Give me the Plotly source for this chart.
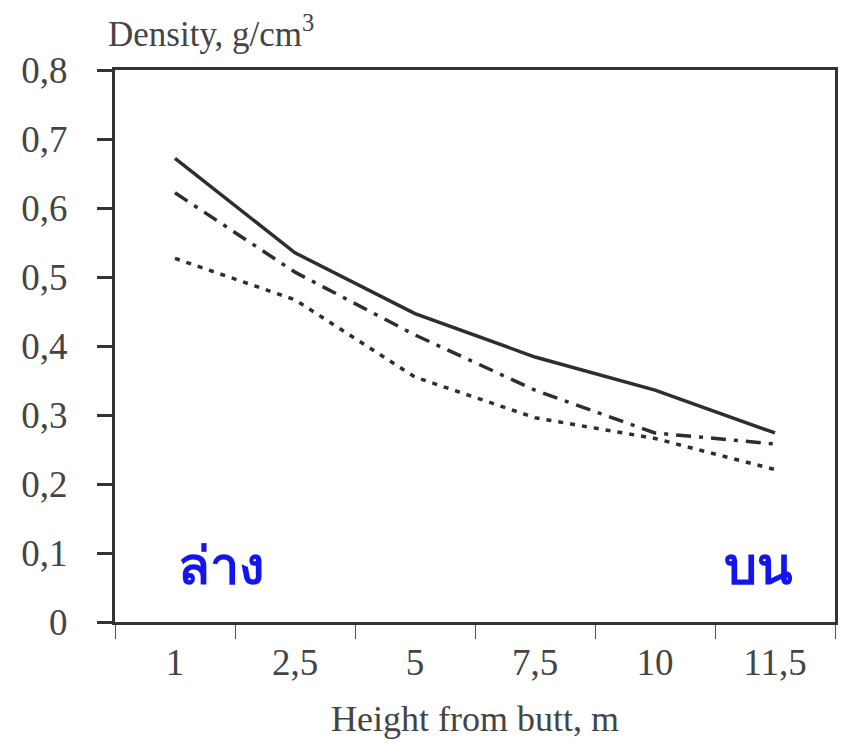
import plotly.graph_objects as go

categories = ["1", "2,5", "5", "7,5", "10", "11,5"]
series_solid = [0.672, 0.535, 0.447, 0.384, 0.336, 0.274]
series_dashdot = [0.622, 0.507, 0.416, 0.336, 0.274, 0.258]
series_dotted = [0.527, 0.467, 0.355, 0.296, 0.266, 0.221]
y_ticks = [0, 0.1, 0.2, 0.3, 0.4, 0.5, 0.6, 0.7, 0.8]
y_tick_labels = ["0", "0,1", "0,2", "0,3", "0,4", "0,5", "0,6", "0,7", "0,8"]

line_color = "#2e2e2e"
serif = "Liberation Serif, DejaVu Serif, serif"
thai = "Noto Sans, DejaVu Sans, sans-serif"

fig = go.Figure()
fig.add_trace(go.Scatter(x=categories, y=series_solid, mode="lines",
                         line=dict(color=line_color, width=3.5, dash="solid"), showlegend=False))
fig.add_trace(go.Scatter(x=categories, y=series_dashdot, mode="lines",
                         line=dict(color=line_color, width=3.5, dash="15px,8px,4px,8px"), showlegend=False))
fig.add_trace(go.Scatter(x=categories, y=series_dotted, mode="lines",
                         line=dict(color=line_color, width=3.5, dash="5px,7px"), showlegend=False))

fig.update_layout(
    width=852, height=748,
    margin=dict(l=115, r=17, t=70, b=126),
    paper_bgcolor="white", plot_bgcolor="white",
    font=dict(family=serif, color="#333333", size=36),
    xaxis=dict(
        type="category", range=[-0.5, 5.5],
        showline=True, linecolor="#333333", linewidth=3, mirror=True,
        ticks="outside", tickson="boundaries", ticklen=14, tickwidth=1, tickcolor="#555555",
        showgrid=False, zeroline=False, ticklabelstandoff=6,
        tickfont=dict(family=serif, size=37, color="#444444"),
        title=dict(text="Height from butt, m", font=dict(family=serif, size=36, color="#444444"), standoff=24),
    ),
    yaxis=dict(
        range=[0, 0.8], tickvals=y_ticks, ticktext=y_tick_labels,
        showline=True, linecolor="#333333", linewidth=3, mirror=True,
        ticks="outside", ticklen=15, tickwidth=3, tickcolor="#333333",
        showgrid=False, zeroline=False, ticklabelstandoff=22,
        tickfont=dict(family=serif, size=37, color="#444444"),
    ),
    annotations=[
        dict(text="Density, g/cm<sup>3</sup>", xref="paper", yref="paper", x=-0.012, y=1.0,
             xanchor="left", yanchor="bottom", yshift=14, showarrow=False,
             font=dict(family=serif, size=35, color="#444444")),
        dict(text="<b>ล่าง</b>", xref="x", yref="y", x=0.38, y=0.085, showarrow=False,
             font=dict(family=thai, size=52, color="#1414f0")),
        dict(text="<b>บน</b>", xref="x", yref="y", x=4.86, y=0.085, showarrow=False,
             font=dict(family=thai, size=52, color="#1414f0")),
    ],
)

fig.write_html("out.html")
